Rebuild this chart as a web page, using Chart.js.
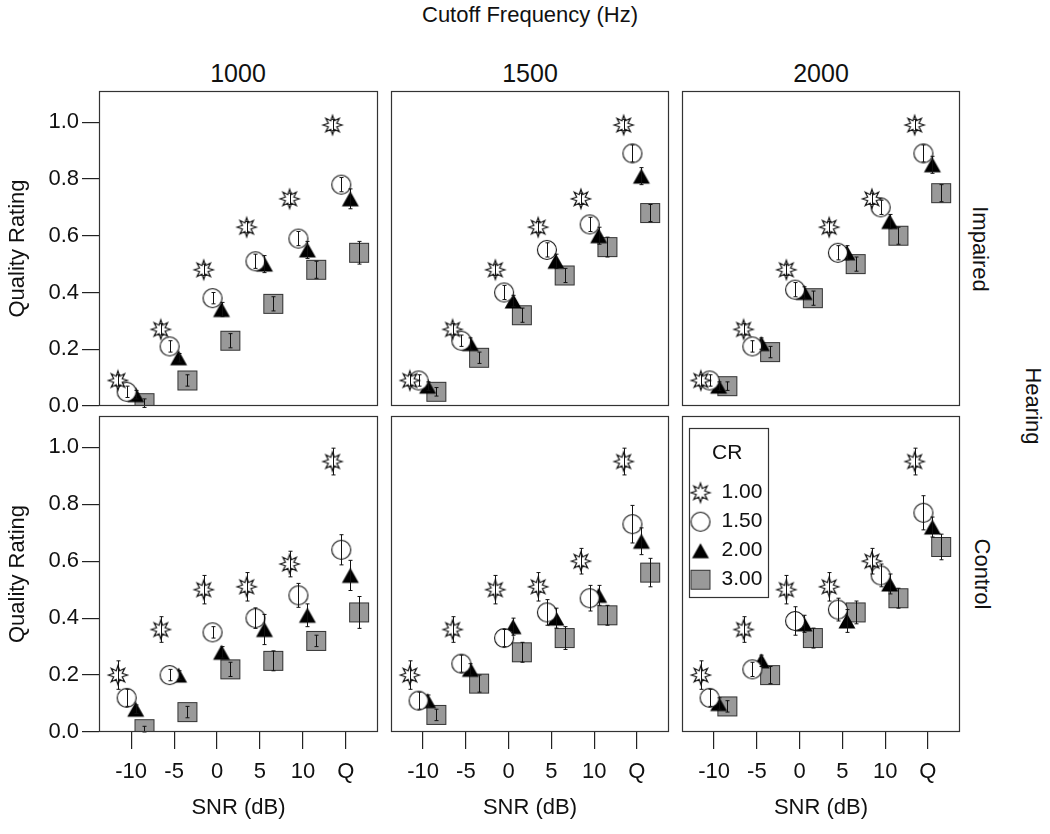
<!DOCTYPE html>
<html lang="en">
<head>
  <meta charset="UTF-8" />
  <title>Quality Rating by SNR and CR</title>
  <script src="https://cdn.jsdelivr.net/npm/chart.js"></script>
  <style>
    body {
      margin: 0;
      background: #fff;
      font-family: 'Liberation Sans', Arial, sans-serif;
      color: #111;
    }
    #wrap {
      position: relative;
      width: 1050px;
      height: 834px;
      overflow: hidden;
    }
    #wrap canvas { position: absolute; }
    .lbl {
      position: absolute;
      font-size: 22px;
      white-space: nowrap;
      transform: translate(-50%, -50%);
    }
    .big { font-size: 25px; }
    .rot { transform: translate(-50%, -50%) rotate(90deg); }
  </style>
</head>
<body>
<div id="wrap">
  <div class="lbl" style="left:530px; top:15px;">Cutoff Frequency (Hz)</div>
  <div class="lbl big" style="left:238px; top:73px;">1000</div>
  <div class="lbl big" style="left:530px; top:73px;">1500</div>
  <div class="lbl big" style="left:821px; top:73px;">2000</div>
  <div class="lbl rot" style="left:980px; top:249px;">Impaired</div>
  <div class="lbl rot" style="left:982px; top:574px;">Control</div>
  <div class="lbl rot" style="left:1033px; top:406px;">Hearing</div>
</div>

<script>
  const snrLabels = ['-10', '-5', '0', '5', '10', 'Q'];
  const crLabels = ['1.00', '1.50', '2.00', '3.00'];
  const yTicks = [0, 0.2, 0.4, 0.6, 0.8, 1.0];

  // mean quality rating, one row per CR (1.00, 1.50, 2.00, 3.00)
  const impaired1000 = [
    [0.09, 0.27, 0.48, 0.63, 0.73, 0.99],
    [0.05, 0.21, 0.38, 0.51, 0.59, 0.78],
    [0.04, 0.17, 0.34, 0.50, 0.55, 0.73],
    [0.01, 0.09, 0.23, 0.36, 0.48, 0.54]
  ];
  const impaired1500 = [
    [0.09, 0.27, 0.48, 0.63, 0.73, 0.99],
    [0.09, 0.23, 0.40, 0.55, 0.64, 0.89],
    [0.07, 0.22, 0.37, 0.51, 0.60, 0.81],
    [0.05, 0.17, 0.32, 0.46, 0.56, 0.68]
  ];
  const impaired2000 = [
    [0.09, 0.27, 0.48, 0.63, 0.73, 0.99],
    [0.09, 0.21, 0.41, 0.54, 0.70, 0.89],
    [0.07, 0.22, 0.40, 0.54, 0.65, 0.85],
    [0.07, 0.19, 0.38, 0.50, 0.60, 0.75]
  ];
  const control1000 = [
    [0.20, 0.36, 0.50, 0.51, 0.59, 0.95],
    [0.12, 0.20, 0.35, 0.40, 0.48, 0.64],
    [0.08, 0.20, 0.28, 0.36, 0.41, 0.55],
    [0.01, 0.07, 0.22, 0.25, 0.32, 0.42]
  ];
  const control1500 = [
    [0.20, 0.36, 0.50, 0.51, 0.60, 0.95],
    [0.11, 0.24, 0.33, 0.42, 0.47, 0.73],
    [0.11, 0.22, 0.37, 0.40, 0.48, 0.67],
    [0.06, 0.17, 0.28, 0.33, 0.41, 0.56]
  ];
  const control2000 = [
    [0.20, 0.36, 0.50, 0.51, 0.60, 0.95],
    [0.12, 0.22, 0.39, 0.43, 0.55, 0.77],
    [0.10, 0.25, 0.38, 0.39, 0.52, 0.72],
    [0.09, 0.20, 0.33, 0.42, 0.47, 0.65]
  ];

  // half-length of error bars, same layout
  const impaired1000Err = [
    [0.02, 0.02, 0.02, 0.02, 0.02, 0.02],
    [0.02, 0.02, 0.02, 0.025, 0.025, 0.025],
    [0.015, 0.015, 0.025, 0.03, 0.03, 0.035],
    [0.015, 0.02, 0.025, 0.025, 0.03, 0.04]
  ];
  const impaired1500Err = [
    [0.02, 0.02, 0.02, 0.02, 0.02, 0.02],
    [0.02, 0.02, 0.025, 0.025, 0.025, 0.03],
    [0.015, 0.02, 0.02, 0.025, 0.03, 0.03],
    [0.015, 0.02, 0.025, 0.025, 0.035, 0.03]
  ];
  const impaired2000Err = [
    [0.02, 0.02, 0.02, 0.02, 0.02, 0.02],
    [0.02, 0.02, 0.025, 0.025, 0.025, 0.03],
    [0.015, 0.02, 0.02, 0.025, 0.025, 0.03],
    [0.015, 0.02, 0.025, 0.025, 0.03, 0.03]
  ];
  const control1000Err = [
    [0.05, 0.045, 0.05, 0.05, 0.045, 0.047],
    [0.03, 0.02, 0.02, 0.036, 0.042, 0.053],
    [0.015, 0.015, 0.02, 0.053, 0.04, 0.053],
    [0.01, 0.02, 0.025, 0.035, 0.02, 0.056]
  ];
  const control1500Err = [
    [0.05, 0.045, 0.05, 0.05, 0.045, 0.047],
    [0.03, 0.03, 0.03, 0.045, 0.045, 0.066],
    [0.02, 0.02, 0.03, 0.035, 0.035, 0.047],
    [0.02, 0.03, 0.035, 0.04, 0.035, 0.05]
  ];
  const control2000Err = [
    [0.05, 0.045, 0.05, 0.05, 0.045, 0.047],
    [0.03, 0.025, 0.05, 0.04, 0.04, 0.06],
    [0.02, 0.02, 0.03, 0.04, 0.035, 0.035],
    [0.02, 0.03, 0.035, 0.04, 0.035, 0.045]
  ];

  const panels = [
    { row: 0, col: 0, means: impaired1000, errs: impaired1000Err },
    { row: 0, col: 1, means: impaired1500, errs: impaired1500Err },
    { row: 0, col: 2, means: impaired2000, errs: impaired2000Err },
    { row: 1, col: 0, means: control1000, errs: control1000Err },
    { row: 1, col: 1, means: control1500, errs: control1500Err },
    { row: 1, col: 2, means: control2000, errs: control2000Err }
  ];

  // layout (px)
  const colX = [99, 391, 682];
  const colW = [279, 278, 278];
  const rowY = [91, 416];
  const rowH = [315, 316];
  const dodge = [-0.31, -0.105, 0.105, 0.31];
  const font = "'Liberation Sans', Arial, sans-serif";
  const narrow = "'Liberation Sans Narrow', 'Arial Narrow', 'Liberation Sans', sans-serif";

  function marker(draw) {
    const c = document.createElement('canvas');
    c.width = 24; c.height = 24;
    const g = c.getContext('2d');
    g.translate(12, 12);
    draw(g);
    return c;
  }
  const starImg = marker(g => {
    g.beginPath();
    for (let i = 0; i < 16; i++) {
      const r = i % 2 ? 4.6 : 9.5;
      const a = i * Math.PI / 8 - Math.PI / 2;
      g.lineTo(r * Math.cos(a), r * Math.sin(a));
    }
    g.closePath();
    g.fillStyle = '#fff'; g.fill();
    g.lineWidth = 1.2; g.strokeStyle = '#111'; g.stroke();
  });
  const circleImg = marker(g => {
    g.beginPath();
    g.arc(0, 0, 9.5, 0, Math.PI * 2);
    g.fillStyle = '#fff'; g.fill();
    g.lineWidth = 1.1; g.strokeStyle = '#111'; g.stroke();
  });
  const triImg = marker(g => {
    g.beginPath();
    g.moveTo(0, -7.5); g.lineTo(8.5, 7.5); g.lineTo(-8.5, 7.5);
    g.closePath();
    g.fillStyle = '#000'; g.fill();
  });
  const squareImg = marker(g => {
    g.fillStyle = '#999';
    g.fillRect(-9.5, -9.5, 19, 19);
    g.lineWidth = 1; g.strokeStyle = '#333';
    g.strokeRect(-9.5, -9.5, 19, 19);
  });
  const markers = [starImg, circleImg, triImg, squareImg];

  const errorBars = {
    id: 'errorBars',
    afterDatasetsDraw(chart) {
      const { ctx, scales: { x, y } } = chart;
      ctx.save();
      ctx.strokeStyle = '#111';
      ctx.lineWidth = 1;
      chart.data.datasets.forEach(ds => {
        ds.data.forEach(p => {
          const px = Math.round(x.getPixelForValue(p.x)) + 0.5;
          const y0 = y.getPixelForValue(p.y - p.err);
          const y1 = y.getPixelForValue(p.y + p.err);
          ctx.beginPath();
          ctx.moveTo(px, y0); ctx.lineTo(px, y1);
          ctx.moveTo(px - 2, y0); ctx.lineTo(px + 2, y0);
          ctx.moveTo(px - 2, y1); ctx.lineTo(px + 2, y1);
          ctx.stroke();
        });
      });
      ctx.restore();
    }
  };

  const frame = {
    id: 'frame',
    afterDraw(chart) {
      const { ctx, chartArea: a } = chart;
      ctx.save();
      ctx.strokeStyle = '#333';
      ctx.lineWidth = 1.2;
      ctx.strokeRect(a.left + 0.5, a.top + 0.5, a.width - 1, a.height - 1);
      ctx.restore();
    }
  };

  const legendBox = {
    id: 'legendBox',
    afterDraw(chart) {
      const lg = chart.legend;
      if (!lg || !lg.options.display || !lg.legendHitBoxes.length) return;
      const hb = lg.legendHitBoxes;
      const a = chart.chartArea;
      const left = a.left + 7, top = a.top + 12;
      const right = Math.max(...hb.map(h => h.left + h.width)) + 6;
      const bottom = Math.max(...hb.map(h => h.top + h.height)) + 7;
      const { ctx } = chart;
      ctx.save();
      ctx.strokeStyle = '#333';
      ctx.lineWidth = 1.2;
      ctx.strokeRect(Math.round(left) + 0.5, Math.round(top) + 0.5, Math.round(right - left), Math.round(bottom - top));
      ctx.restore();
    }
  };

  // keep the plot box fixed: no extra room for overhanging tick labels
  function noLabelPadding(s) {
    s.paddingTop = 0; s.paddingBottom = 0;
    s.paddingLeft = 0; s.paddingRight = 0;
  }

  const wrap = document.getElementById('wrap');

  panels.forEach(pn => {
    const showX = pn.row === 1, showY = pn.col === 0;
    const pad = {
      l: pn.col === 0 ? 99 : 8,
      r: 6,
      t: pn.row === 0 ? 91 : 5,
      b: pn.row === 1 ? 102 : 16
    };
    const w = pad.l + colW[pn.col] + pad.r;
    const h = pad.t + rowH[pn.row] + pad.b;
    const canvas = document.createElement('canvas');
    canvas.width = w; canvas.height = h;
    canvas.style.left = (colX[pn.col] - pad.l) + 'px';
    canvas.style.top = (rowY[pn.row] - pad.t) + 'px';
    wrap.appendChild(canvas);

    const withLegend = pn.row === 1 && pn.col === 2;

    new Chart(canvas.getContext('2d'), {
      type: 'scatter',
      data: {
        datasets: pn.means.map((vals, k) => ({
          label: crLabels[k],
          data: vals.map((v, i) => ({ x: i + dodge[k], y: v, err: pn.errs[k][i] })),
          pointStyle: markers[k],
          showLine: false
        }))
      },
      options: {
        responsive: false,
        animation: false,
        events: [],
        layout: { padding: { top: pad.t, right: pad.r, left: 0, bottom: 0 } },
        plugins: {
          tooltip: { enabled: false },
          legend: {
            display: withLegend,
            position: 'chartArea',
            align: 'start',
            title: {
              display: true,
              text: 'CR',
              color: '#111',
              font: { family: font, size: 21 },
              padding: { top: 32, bottom: 6 }
            },
            labels: {
              usePointStyle: true,
              color: '#111',
              font: { family: font, size: 21 },
              padding: 8
            }
          }
        },
        scales: {
          x: {
            type: 'linear',
            min: -0.75,
            max: 5.75,
            afterBuildTicks: s => { s.ticks = snrLabels.map((_, i) => ({ value: i })); },
            afterFit: s => { s.height = pad.b; noLabelPadding(s); },
            border: { display: false },
            grid: { display: showX, drawOnChartArea: false, drawTicks: true, tickLength: 17, color: '#222', lineWidth: 1.2 },
            ticks: {
              display: showX,
              autoSkip: false,
              maxRotation: 0,
              padding: 10,
              color: '#111',
              font: { family: narrow, size: 22 },
              callback: v => snrLabels[v]
            },
            title: {
              display: showX,
              text: 'SNR (dB)',
              color: '#111',
              font: { family: font, size: 22 },
              padding: { top: 0, bottom: 13 }
            }
          },
          y: {
            min: 0,
            max: 1.11,
            afterBuildTicks: s => { s.ticks = yTicks.map(v => ({ value: v })); },
            afterFit: s => { s.width = pad.l; noLabelPadding(s); },
            border: { display: false },
            grid: { display: showY, drawOnChartArea: false, drawTicks: true, tickLength: 17, color: '#222', lineWidth: 1.2 },
            ticks: {
              display: showY,
              padding: 3,
              color: '#111',
              font: { family: font, size: 22 },
              callback: v => v.toFixed(1)
            },
            title: {
              display: showY,
              text: 'Quality Rating',
              color: '#111',
              font: { family: font, size: 22 },
              padding: { top: 5, bottom: 0 }
            }
          }
        }
      },
      plugins: [errorBars, frame, legendBox]
    });
  });
</script>
</body>
</html>
